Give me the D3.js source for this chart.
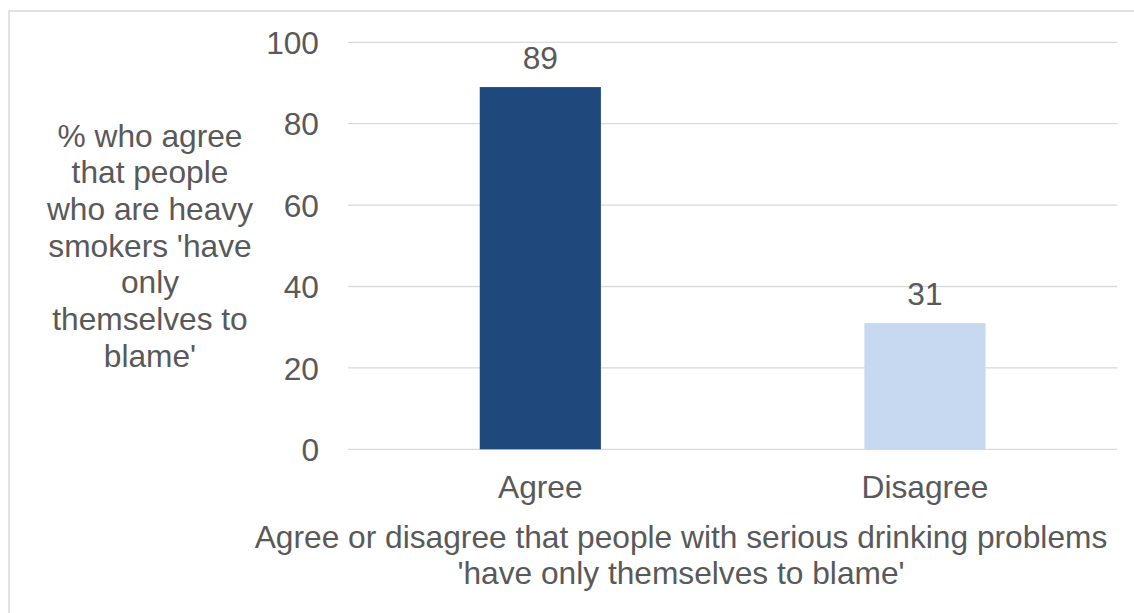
<!DOCTYPE html>
<html>
<head>
<meta charset="utf-8">
<script src="https://cdn.jsdelivr.net/npm/d3@7"></script>
<style>
  html, body { margin: 0; padding: 0; background: #ffffff; }
  svg { display: block; }
  text { font-family: "Liberation Sans", Arial, sans-serif; fill: #595959; }
</style>
</head>
<body>
<svg id="chart" width="1134" height="613"></svg>
<script>
const categories = ["Agree", "Disagree"];
const values = [89, 31];
const barColors = ["#1F497D", "#C6D9F1"];
const yTicks = [0, 20, 40, 60, 80, 100];
const yTitleLines = ["% who agree", "that people", "who are heavy", "smokers 'have", "only", "themselves to", "blame'"];
const xTitleLines = ["Agree or disagree that people with serious drinking problems", "'have only themselves to blame'"];

const W = 1134, H = 613;
const fontSize = 31.7;
const svg = d3.select("#chart");

// chart border (extends past right/bottom edges as in the reference)
svg.append("rect")
  .attr("x", 9).attr("y", 11)
  .attr("width", W + 10).attr("height", H + 10)
  .attr("fill", "#ffffff")
  .attr("stroke", "#D9D9D9").attr("stroke-width", 1.5);

const plotLeft = 348, plotRight = 1117.3, plotTop = 42.3, plotBottom = 449.3;

const y = d3.scaleLinear().domain([0, 100]).range([plotBottom, plotTop]);
const x = d3.scaleBand().domain(categories).range([plotLeft, plotRight])
  .paddingInner(0.685).paddingOuter(0.3425);

// gridlines
svg.append("g").selectAll("line").data(yTicks).join("line")
  .attr("x1", plotLeft).attr("x2", plotRight)
  .attr("y1", d => y(d)).attr("y2", d => y(d))
  .attr("stroke", "#D9D9D9").attr("stroke-width", 1.3);

// y tick labels via axis
const yAxis = d3.axisLeft(y).tickValues(yTicks).tickSize(0).tickPadding(0);
const gy = svg.append("g").attr("transform", "translate(319,0)").call(yAxis);
gy.select(".domain").remove();
gy.selectAll("text")
  .attr("x", 0).attr("dy", "0.35em")
  .style("font-size", fontSize + "px")
  .style("font-family", '"Liberation Sans", Arial, sans-serif')
  .attr("fill", "#595959");

// bars
svg.append("g").selectAll("rect").data(categories).join("rect")
  .attr("x", d => x(d))
  .attr("width", x.bandwidth())
  .attr("y", (d, i) => y(values[i]))
  .attr("height", (d, i) => y(0) - y(values[i]))
  .attr("fill", (d, i) => barColors[i]);

// value labels
svg.append("g").selectAll("text").data(categories).join("text")
  .attr("x", d => x(d) + x.bandwidth() / 2)
  .attr("y", (d, i) => y(values[i]) - 18.5)
  .attr("text-anchor", "middle")
  .style("font-size", fontSize + "px")
  .text((d, i) => values[i]);

// category labels via axis
const xAxis = d3.axisBottom(x).tickSize(0).tickPadding(0);
const gx = svg.append("g").attr("transform", "translate(0,0)").call(xAxis);
gx.select(".domain").remove();
gx.selectAll("text")
  .attr("y", 498).attr("dy", null)
  .style("font-size", fontSize + "px")
  .style("font-family", '"Liberation Sans", Arial, sans-serif')
  .attr("fill", "#595959");

// y-axis title
svg.append("g").selectAll("text").data(yTitleLines).join("text")
  .attr("x", 150)
  .attr("y", (d, i) => 146.7 + i * 36.67)
  .attr("text-anchor", "middle")
  .style("font-size", fontSize + "px")
  .text(d => d);

// x-axis title
svg.append("g").selectAll("text").data(xTitleLines).join("text")
  .attr("x", 681)
  .attr("y", (d, i) => 548.3 + i * 36)
  .attr("text-anchor", "middle")
  .style("font-size", fontSize + "px")
  .text(d => d);
</script>
</body>
</html>
